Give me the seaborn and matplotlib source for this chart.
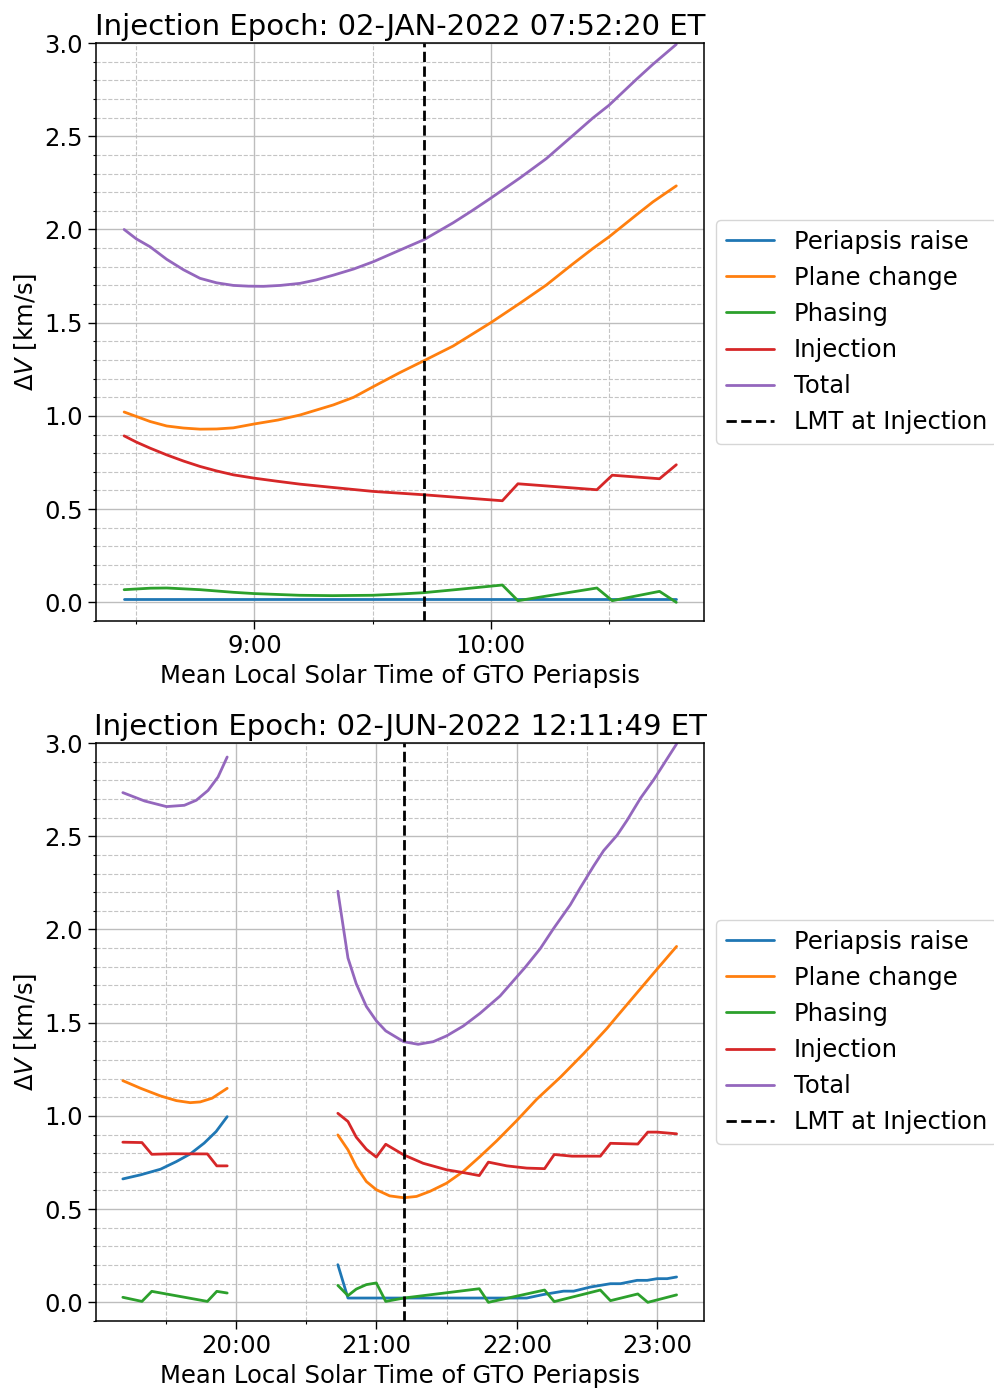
import numpy as np
import pandas as pd
import matplotlib
matplotlib.use("Agg")
import matplotlib.pyplot as plt
import seaborn as sns
from matplotlib.ticker import MultipleLocator, FuncFormatter

# ---------------- data ----------------
series_names = ["Periapsis raise", "Plane change", "Phasing", "Injection", "Total"]
series_colors = ["#1f77b4", "#ff7f0e", "#2ca02c", "#d62728", "#9467bd"]
titles = ["Injection Epoch: 02-JAN-2022 07:52:20 ET",
          "Injection Epoch: 02-JUN-2022 12:11:49 ET"]
lmt_injection = [9.717, 21.195]   # hours

nan = np.nan

# --- January (top) ---
jan_raise_x = [8.449, 9.6, 10.785]
jan_raise_y = [0.02, 0.02, 0.02]
jan_plane_x = [8.449, 8.559, 8.629, 8.700, 8.770, 8.840, 8.911, 9.0, 9.100, 9.193, 9.334, 9.420,
               9.503, 9.615, 9.717, 9.841, 10.0, 10.123, 10.235, 10.341, 10.432, 10.5, 10.615,
               10.686, 10.785]
jan_plane_y = [1.021, 0.970, 0.946, 0.935, 0.929, 0.930, 0.936, 0.957, 0.978, 1.005, 1.059, 1.100,
               1.157, 1.232, 1.296, 1.375, 1.500, 1.604, 1.702, 1.809, 1.898, 1.960, 2.077,
               2.148, 2.234]
jan_phase_x = [8.449, 8.56, 8.63, 8.77, 8.91, 9.0, 9.19, 9.33, 9.5, 9.62, 9.717, 9.85,
               10.049, 10.115, 10.449, 10.514, 10.714, 10.785]
jan_phase_y = [0.068, 0.076, 0.077, 0.068, 0.054, 0.047, 0.038, 0.036, 0.038, 0.045, 0.052, 0.068,
               0.093, 0.009, 0.077, 0.009, 0.059, 0.0]
jan_inj_x = [8.449, 8.500, 8.559, 8.629, 8.700, 8.770, 8.840, 8.911, 9.0, 9.100, 9.193, 9.334,
             9.503, 9.717, 10.049, 10.115, 10.449, 10.514, 10.714, 10.785]
jan_inj_y = [0.893, 0.860, 0.827, 0.791, 0.758, 0.729, 0.705, 0.684, 0.666, 0.649, 0.634, 0.616,
             0.595, 0.577, 0.545, 0.636, 0.604, 0.682, 0.663, 0.738]
jan_total_x = [8.449, 8.500, 8.559, 8.629, 8.700, 8.770, 8.840, 8.911, 8.975, 9.038, 9.110,
               9.193, 9.260, 9.334, 9.420, 9.503, 9.615, 9.717, 9.841, 9.920, 10.0, 10.123,
               10.235, 10.341, 10.432, 10.5, 10.615, 10.686, 10.785]
jan_total_y = [2.000, 1.950, 1.907, 1.840, 1.784, 1.738, 1.714, 1.700, 1.696, 1.695, 1.700,
               1.711, 1.729, 1.755, 1.788, 1.827, 1.889, 1.945, 2.036, 2.100, 2.168, 2.276,
               2.380, 2.497, 2.598, 2.666, 2.804, 2.886, 2.993]

# --- June (bottom); nan separates the two arcs ---
jun_raise_x = [19.195, 19.322, 19.463, 19.576, 19.675, 19.774, 19.859, 19.938, nan,
               20.726, 20.798, 22.071, 22.19, 22.333, 22.405, 22.524, 22.667, 22.738,
               22.857, 22.929, 23.0, 23.071, 23.138]
jun_raise_y = [0.662, 0.684, 0.714, 0.755, 0.796, 0.854, 0.916, 0.996, nan,
               0.202, 0.023, 0.023, 0.042, 0.060, 0.060, 0.082, 0.100, 0.100,
               0.118, 0.118, 0.127, 0.127, 0.136]
jun_plane_x = [19.195, 19.322, 19.463, 19.576, 19.675, 19.746, 19.831, 19.938, nan,
               20.726, 20.798, 20.857, 20.929, 21.0, 21.095, 21.195, 21.286, 21.381, 21.5,
               21.619, 21.738, 21.857, 22.0, 22.143, 22.31, 22.476, 22.643, 22.714, 22.857,
               23.0, 23.138]
jun_plane_y = [1.189, 1.148, 1.107, 1.082, 1.071, 1.075, 1.095, 1.148, nan,
               0.898, 0.818, 0.729, 0.648, 0.604, 0.571, 0.561, 0.568, 0.595, 0.639,
               0.702, 0.782, 0.866, 0.975, 1.090, 1.207, 1.334, 1.470, 1.534, 1.661,
               1.788, 1.909]
jun_phase_x = [19.195, 19.331, 19.401, 19.797, 19.864, 19.938, nan,
               20.726, 20.798, 20.857, 20.929, 21.0, 21.067, 21.195, 21.733, 21.798,
               22.198, 22.267, 22.595, 22.667, 22.862, 22.933, 23.138]
jun_phase_y = [0.027, 0.005, 0.059, 0.005, 0.059, 0.050, nan,
               0.091, 0.036, 0.071, 0.095, 0.104, 0.005, 0.023, 0.073, 0.0,
               0.066, 0.004, 0.066, 0.009, 0.045, 0.0, 0.040]
jun_inj_x = [19.195, 19.331, 19.401, 19.55, 19.797, 19.864, 19.938, nan,
             20.726, 20.798, 20.857, 20.929, 21.0, 21.067, 21.195, 21.333, 21.5, 21.619,
             21.733, 21.798, 21.929, 22.071, 22.198, 22.267, 22.393, 22.595, 22.667,
             22.862, 22.933, 23.0, 23.138]
jun_inj_y = [0.859, 0.857, 0.794, 0.797, 0.796, 0.732, 0.732, nan,
             1.014, 0.970, 0.886, 0.821, 0.779, 0.848, 0.791, 0.746, 0.711, 0.696,
             0.680, 0.752, 0.732, 0.720, 0.717, 0.793, 0.784, 0.784, 0.853,
             0.849, 0.913, 0.913, 0.904]
jun_total_x = [19.195, 19.35, 19.506, 19.633, 19.718, 19.802, 19.873, 19.938, nan,
               20.726, 20.798, 20.857, 20.929, 21.0, 21.067, 21.195, 21.298, 21.405, 21.5,
               21.619, 21.738, 21.881, 22.06, 22.167, 22.262, 22.381, 22.452, 22.548,
               22.619, 22.714, 22.786, 22.881, 22.976, 23.138]
jun_total_y = [2.734, 2.689, 2.659, 2.666, 2.693, 2.746, 2.818, 2.925, nan,
               2.205, 1.847, 1.709, 1.587, 1.510, 1.456, 1.398, 1.384, 1.398, 1.429,
               1.482, 1.550, 1.643, 1.797, 1.897, 2.005, 2.132, 2.223, 2.341,
               2.423, 2.505, 2.586, 2.704, 2.804, 2.995]

panels = [
    [(jan_raise_x, jan_raise_y), (jan_plane_x, jan_plane_y), (jan_phase_x, jan_phase_y),
     (jan_inj_x, jan_inj_y), (jan_total_x, jan_total_y)],
    [(jun_raise_x, jun_raise_y), (jun_plane_x, jun_plane_y), (jun_phase_x, jun_phase_y),
     (jun_inj_x, jun_inj_y), (jun_total_x, jun_total_y)],
]
xlims = [(8.33, 10.902), (19.004, 23.333)]
ylim = (-0.1, 3.0)


def build_frame(series):
    rows = []
    for name, (xs, ys) in zip(series_names, series):
        seg = 0
        for x, y in zip(xs, ys):
            if np.isnan(x):
                seg += 1
                continue
            rows.append({"series": name, "seg": seg, "x": x, "y": y})
    return pd.DataFrame(rows)


# ---------------- style ----------------
FS = 17.5
sns.set_theme(style="ticks", rc={
    "axes.edgecolor": "black",
    "axes.linewidth": 1.1,
    "xtick.color": "black", "ytick.color": "black",
    "xtick.direction": "out", "ytick.direction": "out",
    "xtick.major.size": 6, "ytick.major.size": 6,
    "xtick.minor.size": 2.5, "ytick.minor.size": 2.5,
    "xtick.major.width": 1.0, "ytick.major.width": 1.0,
    "xtick.minor.width": 0.8, "ytick.minor.width": 0.8,
    "font.size": FS, "axes.labelsize": FS, "axes.titlesize": 21,
    "xtick.labelsize": FS, "ytick.labelsize": FS, "legend.fontsize": FS,
    "text.color": "black", "axes.labelcolor": "black",
})
plt.rcParams["font.family"] = ["DejaVu Sans"]

fig = plt.figure(figsize=(9.95, 13.93), dpi=100)
ax_rects = [[0.0965, 0.5542, 0.611, 0.4149], [0.0965, 0.0517, 0.611, 0.4149]]

for i in range(2):
    ax = fig.add_axes(ax_rects[i])
    df = build_frame(panels[i])
    for name, color in zip(series_names, series_colors):
        d = df[df["series"] == name]
        sns.lineplot(data=d, x="x", y="y", units="seg", estimator=None, sort=False,
                     color=color, linewidth=2.0, label=name, ax=ax)
    ax.axvline(lmt_injection[i], color="black", ls="--", linewidth=2.0, label="LMT at Injection")

    ax.set_xlim(*xlims[i])
    ax.set_ylim(*ylim)
    ax.xaxis.set_major_locator(MultipleLocator(1.0))
    ax.xaxis.set_minor_locator(MultipleLocator(0.5))
    ax.xaxis.set_major_formatter(FuncFormatter(lambda v, p: f"{int(round(v))}:00"))
    ax.yaxis.set_major_locator(MultipleLocator(0.5))
    ax.yaxis.set_minor_locator(MultipleLocator(0.1))
    ax.grid(which="major", color="#bdbdbd", lw=1.0, ls="-")
    ax.grid(which="minor", color="#c4c4c4", lw=0.8, ls="--")
    ax.set_axisbelow(True)
    ax.tick_params(which="both", top=False, right=False)

    ax.set_title(titles[i], fontsize=21, pad=6)
    ax.set_xlabel("Mean Local Solar Time of GTO Periapsis")
    ax.set_ylabel(r"$\Delta V$ [km/s]")

    handles, labels = ax.get_legend_handles_labels()
    uniq = {}
    for h, l in zip(handles, labels):
        if l not in uniq:
            uniq[l] = h
    ax.legend(list(uniq.values()), list(uniq.keys()), loc="center left",
              bbox_to_anchor=(1.0, 0.5), fontsize=FS, frameon=True)

fig.savefig("out.png", dpi=100)
